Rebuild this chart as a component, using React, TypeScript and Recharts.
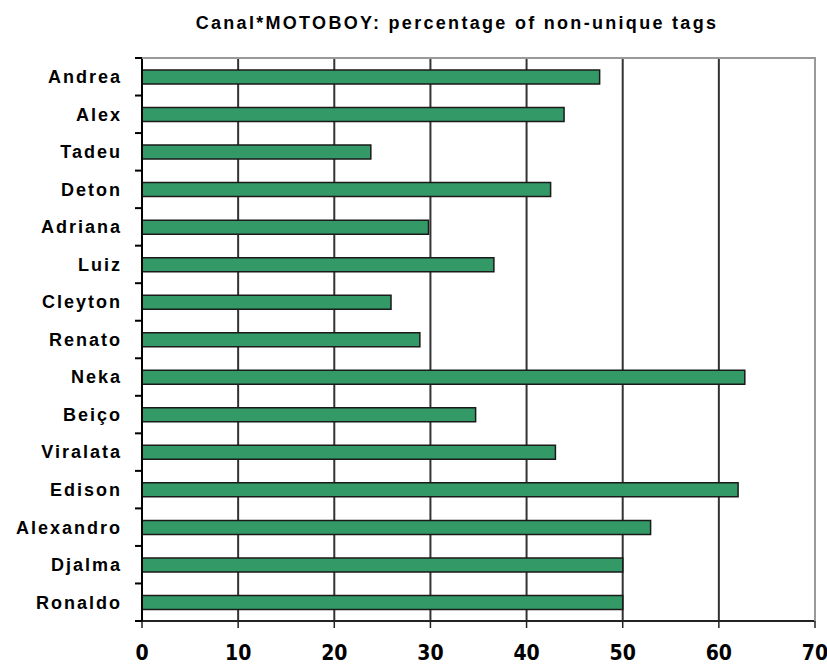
import React from 'react';
import { BarChart, Bar, XAxis, YAxis, CartesianGrid } from 'recharts';

// names from top to bottom
const names = [
  'Andrea', 'Alex', 'Tadeu', 'Deton', 'Adriana', 'Luiz', 'Cleyton', 'Renato',
  'Neka', 'Beiço', 'Viralata', 'Edison', 'Alexandro', 'Djalma', 'Ronaldo',
];
const percentages = [
  47.6, 43.9, 23.8, 42.5, 29.8, 36.6, 25.9, 28.9,
  62.7, 34.7, 43.0, 62.0, 52.9, 50.0, 50.0,
];
const xTicks = [0, 10, 20, 30, 40, 50, 60, 70];

const data = names.map((name, i) => ({ name, value: percentages[i] }));

// layout
const W = 827;
const H = 668;
const MARGIN = { top: 58, right: 12, bottom: 0, left: 0 };
const Y_AXIS_W = 142;
const X_AXIS_H = 47;
const PLOT_W = W - Y_AXIS_W - MARGIN.right;
const PLOT_H = H - MARGIN.top - X_AXIS_H;
const X_TICK_SIZE = 7;
const X_TICK_MARGIN = 17;
const FRAME = '#999';

const labelFont = '"Liberation Sans", Arial, sans-serif';
const narrowFont = '"Liberation Sans Narrow", "DejaVu Sans Condensed", Arial, sans-serif';

// category label plus the little tick on the band boundary above it (and below the last one)
const NameTick = (props: any) => {
  const { x, y, payload, index } = props;
  const half = PLOT_H / names.length / 2;
  return (
    <g>
      <line x1={x - 7} y1={y - half} x2={x} y2={y - half} stroke="#000" strokeWidth={2} />
      {index === names.length - 1 && (
        <line x1={x - 7} y1={y + half} x2={x} y2={y + half} stroke="#000" strokeWidth={2} />
      )}
      <text
        x={x - 20}
        y={y}
        dy="0.355em"
        textAnchor="end"
        fill="#000"
        fontSize={18}
        fontWeight="bold"
        fontFamily={labelFont}
        letterSpacing={2}
      >
        {payload.value}
      </text>
    </g>
  );
};

// value label; the last one also draws the grey frame on the top and right of the plot
const ValueTick = (props: any) => {
  const { x, y, payload } = props;
  const axisY = y - X_TICK_SIZE - X_TICK_MARGIN;
  const isLast = payload.value === xTicks[xTicks.length - 1];
  return (
    <g>
      {isLast && (
        <g>
          <line x1={x} y1={axisY - PLOT_H} x2={x} y2={axisY} stroke={FRAME} strokeWidth={2} />
          <line x1={x - PLOT_W} y1={axisY - PLOT_H} x2={x} y2={axisY - PLOT_H} stroke={FRAME} strokeWidth={2} />
        </g>
      )}
      <text
        x={x}
        y={y}
        dy="0.71em"
        textAnchor="middle"
        fill="#000"
        fontSize={21}
        fontWeight="bold"
        fontFamily={narrowFont}
      >
        {payload.value}
      </text>
    </g>
  );
};

const App: React.FC = () => {
  return (
    <div style={{ position: 'absolute', left: 0, top: 0, width: W, height: H, background: '#fff' }}>
      <div
        style={{
          position: 'absolute', left: 157, top: 13, width: 600, textAlign: 'center',
          fontFamily: labelFont, fontWeight: 'bold', fontSize: 18, letterSpacing: 2.3,
          whiteSpace: 'nowrap', color: '#000',
        }}
      >
        Canal*MOTOBOY: percentage of non-unique tags
      </div>
      <BarChart
        width={W}
        height={H}
        data={data}
        layout="vertical"
        margin={MARGIN}
        barSize={14}
      >
        <CartesianGrid horizontal={false} stroke="#333" strokeWidth={2} />
        <XAxis
          type="number"
          domain={[0, 70]}
          ticks={xTicks}
          interval={0}
          height={X_AXIS_H}
          tickSize={X_TICK_SIZE}
          tickMargin={X_TICK_MARGIN}
          axisLine={{ stroke: '#222', strokeWidth: 2 }}
          tickLine={{ stroke: '#222', strokeWidth: 1.5 }}
          tick={<ValueTick />}
        />
        <YAxis
          type="category"
          dataKey="name"
          width={Y_AXIS_W}
          interval={0}
          tickSize={0}
          tickMargin={0}
          tickLine={false}
          axisLine={{ stroke: '#000', strokeWidth: 2 }}
          tick={<NameTick />}
        />
        <Bar
          dataKey="value"
          fill="#339966"
          stroke="#1a1a1a"
          strokeWidth={1.5}
          isAnimationActive={false}
        />
      </BarChart>
      {/* frame backup in case the tick-drawn frame is hidden */}
      <div
        style={{
          position: 'absolute', left: Y_AXIS_W, top: MARGIN.top - 1, width: PLOT_W, height: PLOT_H,
          borderTop: `2px solid ${FRAME}`, borderRight: `2px solid ${FRAME}`,
          boxSizing: 'border-box', marginLeft: 1, pointerEvents: 'none',
        }}
      />
    </div>
  );
};

export default App;
